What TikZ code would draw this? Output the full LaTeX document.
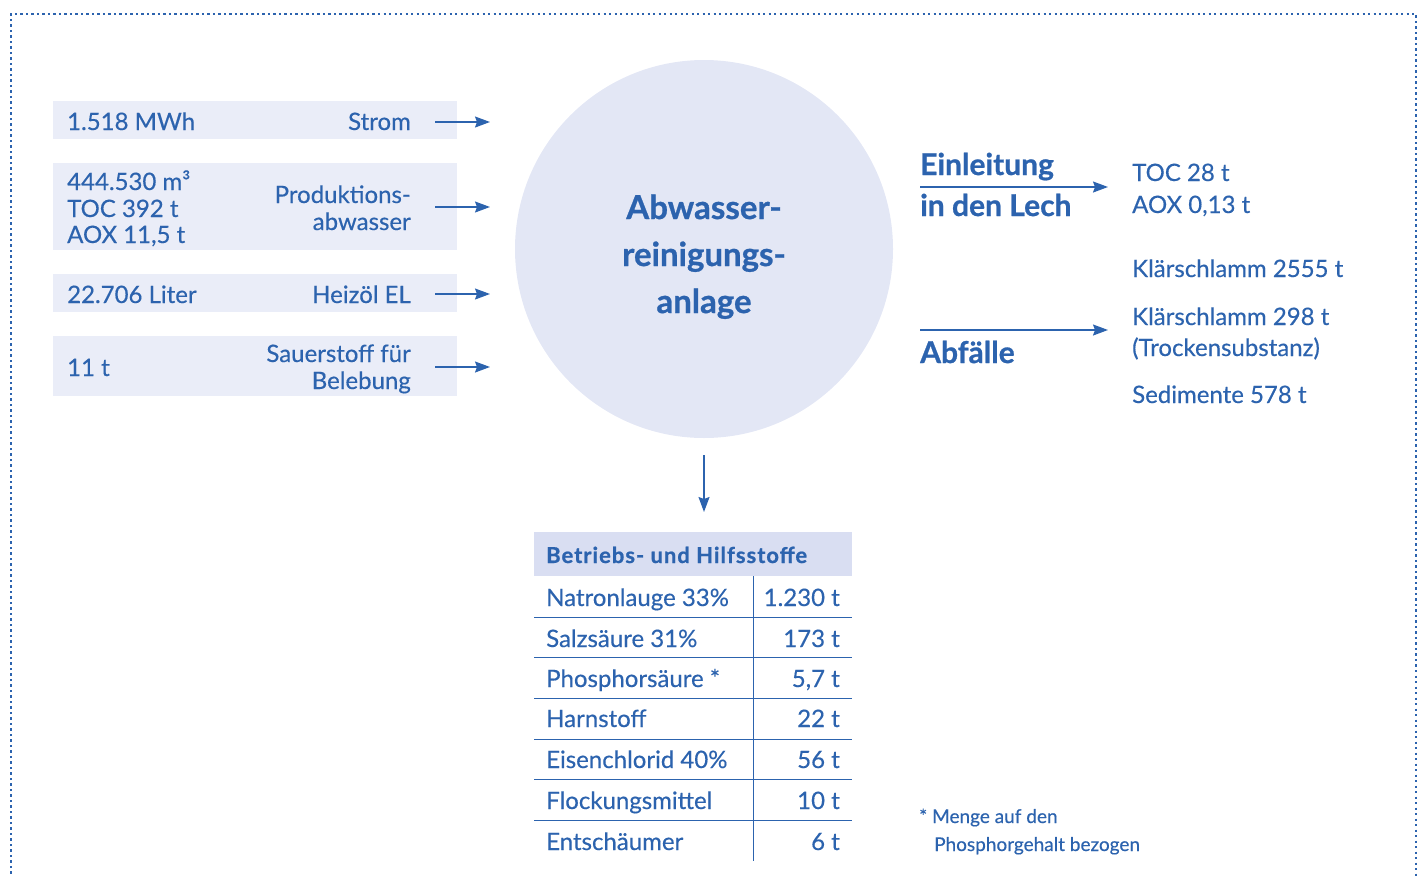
\documentclass[tikz,border=0pt]{standalone}
\usepackage{fontspec}
\setmainfont{Lato}[FakeBold=0.4, BoldFeatures={FakeBold=0.8}]
\newfontfamily\headfont{Lato}[LetterSpace=4.5, BoldFeatures={FakeBold=0.8}]
\usetikzlibrary{arrows.meta}
\definecolor{ink}{HTML}{2C63AE}
\definecolor{boxfill}{HTML}{EAEDF8}
\definecolor{circfill}{HTML}{E3E7F5}
\definecolor{headfill}{HTML}{D9DEF2}
\tikzset{
  txt/.style={text=ink, inner sep=0pt, font=\fontsize{24}{27}\selectfont},
  boldtxt/.style={text=ink, inner sep=0pt, font=\fontsize{30}{41}\selectfont\bfseries},
  bigtxt/.style={text=ink, inner sep=0pt, font=\fontsize{33}{41}\selectfont\bfseries},
  headtxt/.style={text=ink, inner sep=0pt, font=\fontsize{22}{25}\selectfont\headfont\bfseries},
  notetxt/.style={text=ink, inner sep=0pt, font=\fontsize{19}{27}\selectfont},
  inbox/.style={fill=boxfill, draw=none, inner sep=0pt, anchor=north west, minimum width=404pt},
  arr/.style={draw=ink, line width=1.5pt, -{Stealth[length=15pt,width=11pt,inset=2pt]}},
  rulel/.style={draw=ink, line width=1pt},
}
\begin{document}
\begin{tikzpicture}[x=1pt,y=-1pt]
\useasboundingbox (0,0) rectangle (1421,876);
\clip (0,0) rectangle (1421,876);
% dotted frame
\draw[ink, line width=2.2pt, dash pattern=on 2.2pt off 3.3pt] (11,890) -- (11,14) -- (1416,14) -- (1416,890);

% input boxes
\node[inbox, minimum height=38pt] (box1) at (53,101) {};
\node[inbox, minimum height=87pt] (box2) at (53,163) {};
\node[inbox, minimum height=38pt] (box3) at (53,274) {};
\node[inbox, minimum height=60pt] (box4) at (53,336) {};

\node[txt, anchor=base west] (v1) at (67,130) {1.518 MWh};
\node[txt, anchor=base east] (n1) at (411,130) {Strom};
\node[txt, anchor=base west] (v2a) at (67,190) {444.530 m³};
\node[txt, anchor=base west] (v2b) at (67,217) {TOC 392 t};
\node[txt, anchor=base west] (v2c) at (67,243) {AOX 11,5 t};
\node[txt, anchor=base east] (n2a) at (411,203) {Produktions-};
\node[txt, anchor=base east] (n2b) at (411,230) {abwasser};
\node[txt, anchor=base west] (v3) at (67,303) {22.706 Liter};
\node[txt, anchor=base east] (n3) at (411,303) {Heizöl EL};
\node[txt, anchor=base west] (v4) at (67,376) {11 t};
\node[txt, anchor=base east] (n4a) at (411,362) {Sauerstoff für};
\node[txt, anchor=base east] (n4b) at (411,389) {Belebung};

\coordinate (s1) at (435,122); \coordinate (e1) at (490,122);
\coordinate (s2) at (435,207); \coordinate (e2) at (490,207);
\coordinate (s3) at (435,294); \coordinate (e3) at (490,294);
\coordinate (s4) at (435,367); \coordinate (e4) at (490,367);
\draw[arr] (s1) -- (e1);
\draw[arr] (s2) -- (e2);
\draw[arr] (s3) -- (e3);
\draw[arr] (s4) -- (e4);

% plant circle
\node[circle, fill=circfill, minimum size=378pt, inner sep=0pt] (plant) at (704,249) {};
\node[bigtxt, anchor=base] (p1) at (704,219) {Abwasser-};
\node[bigtxt, anchor=base] (p2) at (704,266) {reinigungs-};
\node[bigtxt, anchor=base] (p3) at (704,313) {anlage};

% down arrow
\coordinate (d1) at (704,455); \coordinate (d2) at (704,512);
\draw[arr] (d1) -- (d2);

% table
\node[fill=headfill, inner sep=0pt, anchor=north west, minimum width=318pt, minimum height=44pt] (head) at (534,532) {};
\node[headtxt, anchor=base west] (headlabel) at (546,563) {Betriebs- und Hilfsstoffe};
\foreach \yy in {617,657,698,739,779,820} { \draw[rulel] (534,\yy) -- (852,\yy); }
\draw[rulel] (753,576) -- (753,861);
\foreach \name/\val/\yy [count=\i] in {Natronlauge 33\%/1.230 t/606, Salzsäure 31\%/173 t/647, Phosphorsäure */5{,}7 t/687, Harnstoff/22 t/727, Eisenchlorid 40\%/56 t/768, Flockungsmittel/10 t/809, Entschäumer/6 t/850} {
  \node[txt, anchor=base west] (tn\i) at (546,\yy) {\name};
  \node[txt, anchor=base east] (tv\i) at (840,\yy) {\val};
}

% outputs
\node[boldtxt, anchor=base west] (ein1) at (920,175) {Einleitung};
\node[boldtxt, anchor=base west] (ein2) at (920,216) {in den Lech};
\coordinate (o1s) at (920,187); \coordinate (o1e) at (1108,187);
\draw[arr] (o1s) -- (o1e);
\node[txt, anchor=base west] (r1) at (1132,181) {TOC 28 t};
\node[txt, anchor=base west] (r2) at (1132,213) {AOX 0,13 t};
\node[txt, anchor=base west] (r3) at (1132,277) {Klärschlamm 2555 t};
\coordinate (o2s) at (920,330); \coordinate (o2e) at (1108,330);
\draw[arr] (o2s) -- (o2e);
\node[boldtxt, anchor=base west] (abf) at (920,363) {Abfälle};
\node[txt, anchor=base west] (r4) at (1132,325) {Klärschlamm 298 t};
\node[txt, anchor=base west] (r5) at (1132,356) {(Trockensubstanz)};
\node[txt, anchor=base west] (r6) at (1132,403) {Sedimente 578 t};

% footnote
\node[notetxt, anchor=base west] (f1) at (919,823) {* Menge auf den};
\node[notetxt, anchor=base west] (f2) at (934,851) {Phosphorgehalt bezogen};
\end{tikzpicture}
\end{document}
